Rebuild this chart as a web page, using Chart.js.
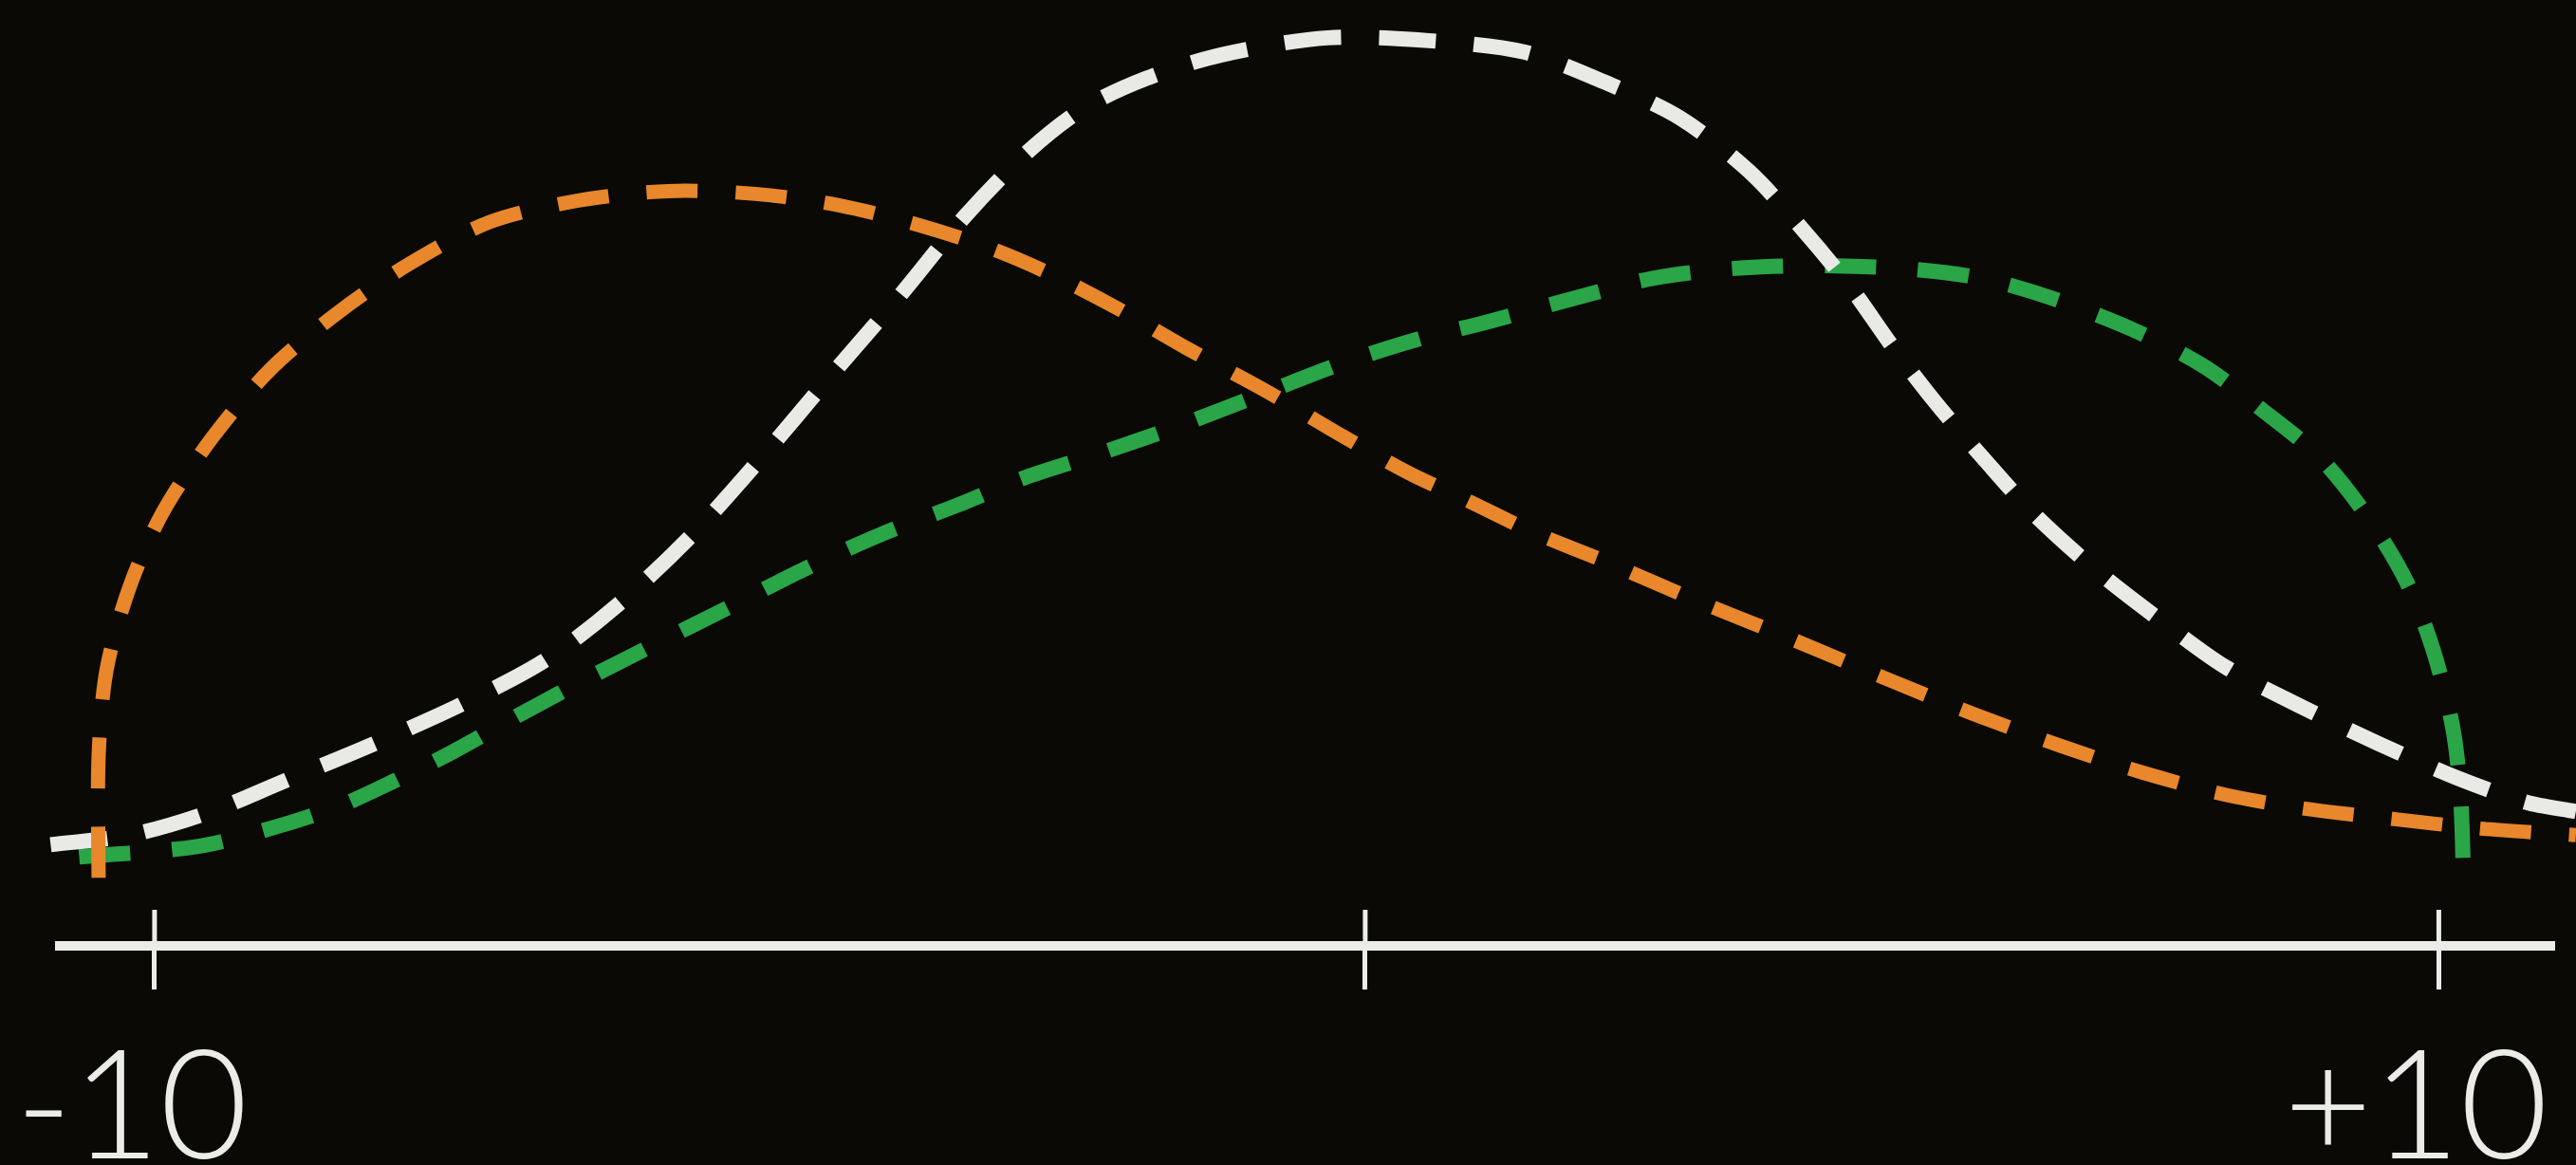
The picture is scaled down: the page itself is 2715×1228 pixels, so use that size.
<!DOCTYPE html>
<html>
<head>
<meta charset="utf-8">
<script src="https://cdn.jsdelivr.net/npm/chart.js@4"></script>
<style>
  html, body { margin: 0; padding: 0; background: #0a0906; }
  canvas { display: block; }
</style>
</head>
<body>
<canvas id="sketch" width="2715" height="1228"></canvas>
<script>
// axis ticks (the middle one is unlabeled)
var tickValues = [-10, 0.6, 10];
var tickLabels = ['-10', '', '+10'];

// orange curve: rises fast, peaks early, long tail to the right
var orangeX = [-10.49, -10.49, -10.42, -10.22, -9.93, -9.49, -8.99, -8.41, -7.77, -7.07, -6.29, -5.50, -4.74, -4.01, -3.31, -2.67, -2.13, -1.57, -0.95, -0.26, 0.40, 0.98, 1.51, 2.06, 2.73, 3.44, 4.32, 5.11, 5.95, 6.70, 7.41, 8.16, 8.89, 9.61, 10.37, 11.20];
var orangeY = [0.72, 2.00, 2.92, 3.79, 4.58, 5.38, 6.09, 6.68, 7.21, 7.65, 7.88, 7.98, 7.95, 7.83, 7.62, 7.37, 7.09, 6.74, 6.31, 5.86, 5.39, 5.00, 4.70, 4.38, 4.05, 3.68, 3.25, 2.85, 2.44, 2.11, 1.83, 1.59, 1.44, 1.34, 1.24, 1.17];

// white curve: bump, highest in the middle
var whiteX = [-10.91, -10.22, -9.55, -8.85, -8.09, -7.30, -6.58, -5.94, -5.29, -4.68, -4.07, -3.45, -2.90, -2.35, -1.86, -1.32, -0.66, 0.27, 1.16, 1.99, 2.70, 3.36, 3.96, 4.44, 4.85, 5.22, 5.59, 6.03, 6.46, 7.02, 7.62, 8.13, 8.76, 9.47, 10.15, 10.76, 11.20];
var whiteY = [1.07, 1.17, 1.40, 1.75, 2.13, 2.56, 3.02, 3.61, 4.35, 5.17, 6.04, 6.91, 7.72, 8.40, 8.86, 9.17, 9.42, 9.60, 9.57, 9.45, 9.13, 8.75, 8.19, 7.56, 6.96, 6.33, 5.75, 5.13, 4.56, 3.95, 3.39, 2.95, 2.55, 2.14, 1.78, 1.52, 1.42];

// green curve: slow rise, peaks late, drops sharply near +10
var greenX = [-10.66, -9.63, -8.96, -8.38, -7.89, -7.39, -6.78, -6.19, -5.65, -4.97, -4.30, -3.64, -2.99, -2.38, -1.69, -0.98, -0.29, 0.40, 1.08, 1.65, 2.35, 3.13, 3.92, 4.72, 5.42, 6.03, 6.63, 7.33, 7.94, 8.45, 8.96, 9.39, 9.73, 9.95, 10.12, 10.19, 10.22];
var greenY = [0.94, 1.05, 1.25, 1.48, 1.75, 2.05, 2.46, 2.84, 3.17, 3.58, 3.99, 4.35, 4.65, 4.95, 5.22, 5.52, 5.84, 6.16, 6.42, 6.59, 6.82, 7.06, 7.17, 7.19, 7.15, 7.05, 6.84, 6.51, 6.13, 5.67, 5.16, 4.51, 3.82, 3.13, 2.32, 1.59, 0.52];

var axisColor = '#ebebe8';

function toPoints(xs, ys) {
    var pts = [];
    for (var i = 0; i < xs.length; i++) {
        pts.push({x: xs[i], y: ys[i]});
    }
    return pts;
}

// the hand drawn ticks cross the axis, chart.js only draws the lower half
var tickTops = {
    id: 'tickTops',
    afterDraw: function(chart) {
        var xs = chart.scales.x;
        var ctx = chart.ctx;
        ctx.save();
        ctx.strokeStyle = axisColor;
        ctx.lineWidth = 5;
        for (var i = 0; i < xs.ticks.length; i++) {
            var px = xs.getPixelForValue(xs.ticks[i].value);
            ctx.beginPath();
            ctx.moveTo(px, xs.top - 38);
            ctx.lineTo(px, xs.top);
            ctx.stroke();
        }
        ctx.restore();
    }
};

var ctx = document.getElementById('sketch').getContext('2d');
new Chart(ctx, {
    type: 'line',
    data: {
        datasets: [
        {
            label: 'orange',
            data: toPoints(orangeX, orangeY),
            borderColor: '#e8872b',
            borderWidth: 15,
            borderDash: [54, 40],
            tension: 0.3,
            pointRadius: 0,
            clip: false
        },
        {
            label: 'white',
            data: toPoints(whiteX, whiteY),
            borderColor: '#e9e9e6',
            borderWidth: 16,
            borderDash: [60, 40],
            tension: 0.3,
            pointRadius: 0,
            clip: false
        },
        {
            label: 'green',
            data: toPoints(greenX, greenY),
            borderColor: '#2aa548',
            borderWidth: 16,
            borderDash: [54, 44],
            tension: 0.3,
            pointRadius: 0,
            clip: false
        }]
    },
    options: {
        responsive: false,
        animation: false,
        layout: {
            padding: {left: 63, right: 23, top: 0, bottom: 0}
        },
        plugins: {
            legend: {display: false},
            tooltip: {enabled: false}
        },
        scales: {
            x: {
                type: 'linear',
                min: -10.83,
                max: 11.01,
                afterBuildTicks: function(scale) {
                    scale.ticks = tickValues.map(function(v) { return {value: v}; });
                },
                afterFit: function(scale) {
                    // labels may hang past the ends, keep the axis length fixed
                    scale.height = 231;
                    scale.paddingLeft = 0;
                    scale.paddingRight = 0;
                },
                border: {display: true, color: axisColor, width: 10},
                grid: {
                    drawOnChartArea: false,
                    drawTicks: true,
                    tickLength: 46,
                    tickWidth: 5,
                    tickColor: axisColor
                },
                ticks: {
                    color: axisColor,
                    font: {family: 'Lato', size: 160, weight: 300},
                    padding: 30,
                    labelOffset: -24,
                    maxRotation: 0,
                    autoSkip: false,
                    callback: function(value, index) {
                        return tickLabels[index];
                    }
                }
            },
            y: {
                display: false,
                min: 0,
                max: 10
            }
        }
    },
    plugins: [tickTops]
});
</script>
</body>
</html>
